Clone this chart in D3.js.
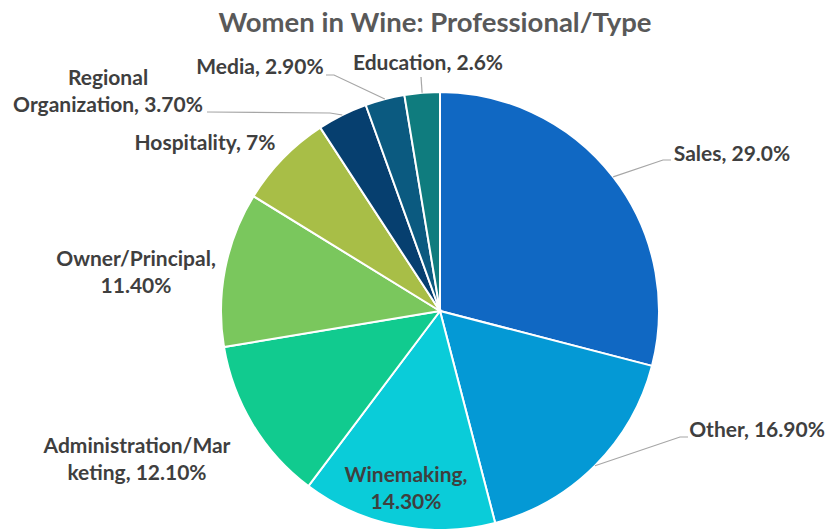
<!DOCTYPE html>
<html>
<head>
<meta charset="utf-8">
<script src="https://cdn.jsdelivr.net/npm/d3@7"></script>
<style>
  body { margin: 0; background: #fff; }
  svg { display: block; font-family: Lato, "Open Sans", sans-serif; font-weight: bold; }
</style>
</head>
<body>
<div id="chart"></div>
<script>
var categories = ["Sales", "Other", "Winemaking", "Administration/Marketing", "Owner/Principal",
                  "Hospitality", "Regional Organization", "Media", "Education"];
var values = [29.0, 16.9, 14.3, 12.1, 11.4, 7, 3.7, 2.9, 2.6];
var labelLines = [
  ["Sales, 29.0%"],
  ["Other, 16.90%"],
  ["Winemaking,", "14.30%"],
  ["Administration/Mar", "keting, 12.10%"],
  ["Owner/Principal,", "11.40%"],
  ["Hospitality, 7%"],
  ["Regional", "Organization, 3.70%"],
  ["Media, 2.90%"],
  ["Education, 2.6%"]
];
var colors = ["#1068C3", "#0499D5", "#0ACCD9", "#11CB8F", "#7AC75D",
              "#A8BE47", "#063F6F", "#0B5A80", "#0F7C7E"];

// where each label sits (x centre, first baseline) and the elbow of its leader line, if any
var labelLayout = [
  {x: 732, y: 161, elbow: [[671, 160], [663, 160]]},
  {x: 757, y: 437, elbow: [[688, 437], [680, 437]]},
  {x: 406, y: 482},
  {x: 137, y: 453},
  {x: 136, y: 266},
  {x: 205, y: 150},
  {x: 108, y: 85, elbow: [[207, 112], [330, 113]]},
  {x: 260, y: 74, elbow: [[326, 75], [334, 75]]},
  {x: 428, y: 70, elbow: [[421, 77]]}
];

var width = 827, height = 529;
var cx = 440, cy = 311, radius = 219;

var svg = d3.select("#chart").append("svg")
    .attr("width", width)
    .attr("height", height);

svg.append("text")
    .attr("x", 435)
    .attr("y", 32)
    .attr("text-anchor", "middle")
    .attr("fill", "#595959")
    .attr("font-size", 27.5)
    .text("Women in Wine: Professional/Type");

var pie = d3.pie().sort(null).value(function(d) { return d; });
var arcs = pie(values);
var arc = d3.arc().innerRadius(0).outerRadius(radius);

var g = svg.append("g")
    .attr("transform", "translate(" + cx + "," + cy + ")");

g.selectAll(".slice")
    .data(arcs)
  .enter().append("path")
    .attr("class", "slice")
    .attr("d", arc)
    .attr("fill", function(d, i) { return colors[i]; })
    .attr("stroke", "#fff")
    .attr("stroke-width", 2);

// leader lines
arcs.forEach(function(d, i) {
  var lay = labelLayout[i];
  if (!lay.elbow) return;
  var mid = (d.startAngle + d.endAngle) / 2;
  var px = cx + radius * Math.sin(mid);
  var py = cy - radius * Math.cos(mid);
  var pts = lay.elbow.concat([[px, py]]);
  svg.append("path")
    .attr("d", d3.line()(pts))
    .attr("fill", "none")
    .attr("stroke", "#a6a6a6")
    .attr("stroke-width", 1.2);
});

// labels
var labels = svg.selectAll(".lbl")
    .data(arcs)
  .enter().append("text")
    .attr("class", "lbl")
    .attr("text-anchor", "middle")
    .attr("font-size", 21)
    .attr("fill", "#3f3f3f");

labels.each(function(d, i) {
  var t = d3.select(this);
  labelLines[i].forEach(function(line, j) {
    t.append("tspan")
      .attr("x", labelLayout[i].x)
      .attr("y", labelLayout[i].y + j * 26.5)
      .text(line);
  });
});
</script>
</body>
</html>
